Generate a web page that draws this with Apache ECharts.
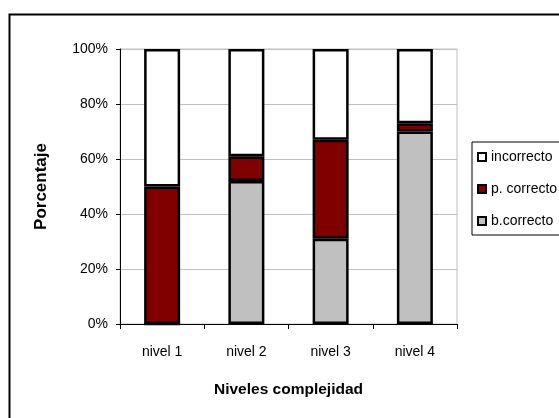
<!DOCTYPE html>
<html>
<head>
<meta charset="utf-8">
<script src="https://cdn.jsdelivr.net/npm/echarts@6/dist/echarts.min.js"></script>
<style>
  html, body { margin: 0; padding: 0; background: #fff; }
  #chart { width: 559px; height: 418px; }
</style>
</head>
<body>
<div id="chart"></div>
<script>
// Complexity levels and the share of answers in each outcome (percent)
const categories = ['nivel 1', 'nivel 2', 'nivel 3', 'nivel 4'];
const bCorrecto  = [0, 52, 31, 70];
const pCorrecto  = [50, 9, 36, 3];
const incorrecto = [50, 39, 33, 27];
const yTicks = [0, 20, 40, 60, 80, 100];

const font = "'Liberation Sans', Arial, sans-serif";

const barStyle = (color) => ({
  color: color,
  borderColor: '#000',
  borderWidth: 2.5
});

const chart = echarts.init(document.getElementById('chart'), null, { renderer: 'canvas' });

chart.setOption({
  animation: false,
  backgroundColor: '#fff',
  graphic: [{
    type: 'rect',
    shape: { x: 9.5, y: 14.5, width: 640, height: 500 },
    style: { fill: 'none', stroke: '#000', lineWidth: 2 },
    silent: true,
    z: -1
  }],
  grid: {
    left: 120, top: 49, right: 102, bottom: 94,
    show: true, borderColor: '#c0c0c0', borderWidth: 1, backgroundColor: 'transparent'
  },
  legend: {
    orient: 'vertical',
    left: 472, top: 142,
    padding: [8, 60, 7, 5],
    itemGap: 18,
    itemWidth: 8, itemHeight: 8,
    borderColor: '#000', borderWidth: 1,
    icon: 'rect',
    itemStyle: { borderColor: '#000', borderWidth: 2 },
    textStyle: { fontFamily: font, fontSize: 14, color: '#000' },
    data: ['incorrecto', 'p. correcto', 'b.correcto']
  },
  xAxis: {
    type: 'category',
    data: categories,
    name: 'Niveles complejidad',
    nameLocation: 'middle',
    nameGap: 58,
    nameTextStyle: { fontFamily: font, fontWeight: 'bold', fontSize: 15.5, color: '#000' },
    axisLine: { lineStyle: { color: '#000', width: 1 } },
    axisTick: { show: true, alignWithLabel: false, length: 5, lineStyle: { color: '#000' } },
    axisLabel: { fontFamily: font, fontSize: 14, color: '#000', margin: 21 },
    splitLine: { show: false }
  },
  yAxis: {
    type: 'value',
    min: yTicks[0], max: yTicks[yTicks.length - 1], interval: 20,
    name: 'Porcentaje',
    nameLocation: 'middle',
    nameGap: 70,
    nameTextStyle: { fontFamily: font, fontWeight: 'bold', fontSize: 17, color: '#000' },
    axisLine: { show: true, lineStyle: { color: '#000', width: 1 } },
    axisTick: { show: true, length: 4, lineStyle: { color: '#000' } },
    axisLabel: { fontFamily: font, fontSize: 14, color: '#000', margin: 12, formatter: '{value}%' },
    splitLine: { show: true, lineStyle: { color: '#c0c0c0', width: 1 } }
  },
  series: [
    { name: 'b.correcto', type: 'bar', stack: 'total', barWidth: 36, data: bCorrecto, itemStyle: barStyle('#c0c0c0') },
    { name: 'p. correcto', type: 'bar', stack: 'total', barWidth: 36, data: pCorrecto, itemStyle: barStyle('#800000') },
    { name: 'incorrecto', type: 'bar', stack: 'total', barWidth: 36, data: incorrecto, itemStyle: barStyle('#ffffff') }
  ]
});
</script>
</body>
</html>
